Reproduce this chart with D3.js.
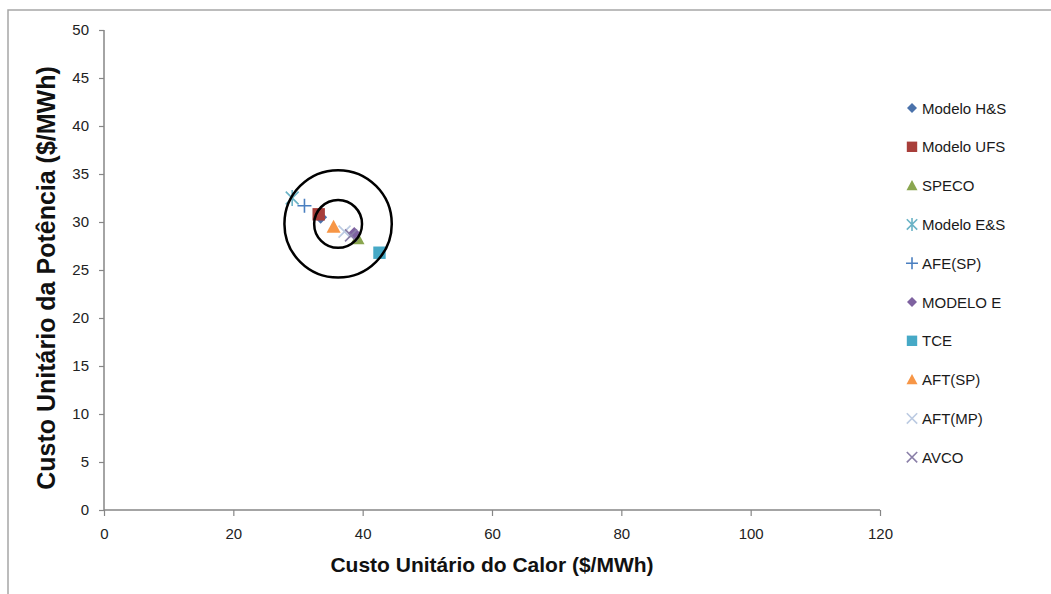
<!DOCTYPE html>
<html>
<head>
<meta charset="utf-8">
<script src="https://cdn.jsdelivr.net/npm/d3@7"></script>
<style>
  html, body { margin: 0; padding: 0; background: #fff; }
  svg { display: block; }
  text { font-family: "Liberation Sans", Arial, sans-serif; }
</style>
</head>
<body>
<svg id="chart" width="1051" height="594"></svg>
<script>
// ---- data ----
const seriesNames = ["Modelo H&S", "Modelo UFS", "SPECO", "Modelo E&S", "AFE(SP)",
                     "MODELO E", "TCE", "AFT(SP)", "AFT(MP)", "AVCO"];
const xValues = [33.5, 33.2, 39.2, 29.1, 31.0, 38.7, 42.6, 35.5, 37.2, 38.2];
const yValues = [30.5, 30.8, 28.3, 32.5, 31.7, 28.8, 26.8, 29.5, 29.0, 28.6];
const xTicks = [0, 20, 40, 60, 80, 100, 120];
const yTicks = [0, 5, 10, 15, 20, 25, 30, 35, 40, 45, 50];
const circleCenter = [36.2, 29.8];
const circleRadii = [8.3, 3.7];   // in x-axis units
const xTitle = "Custo Unitário do Calor ($/MWh)";
const yTitle = "Custo Unitário da Potência ($/MWh)";

// ---- styles ----
const shapes = ["diamond", "square", "triangle", "asterisk", "plus",
                "diamond", "square", "triangle", "cross", "cross"];
const colors = ["#4a72ab", "#a83e3a", "#8aa64f", "#6ab3c6", "#4a7fc0",
                "#7e62a0", "#46a9c6", "#f79646", "#bccbe2", "#8a7fa8"];

const svg = d3.select("#chart");

// outer frame
svg.append("rect").attr("x", 8).attr("y", 10).attr("width", 1200).attr("height", 800)
  .attr("fill", "none").attr("stroke", "#a6a6a6").attr("stroke-width", 1.5);

const x = d3.scaleLinear().domain([0, 120]).range([104, 880]);
const y = d3.scaleLinear().domain([0, 50]).range([510, 30]);

const axisColor = "#868686";
const tickColor = "#222";

// x axis
const gx = svg.append("g").attr("transform", `translate(0,${y(0)})`)
  .call(d3.axisBottom(x).tickValues(xTicks).tickSize(6).tickSizeOuter(0).tickPadding(12));
// y axis
const gy = svg.append("g").attr("transform", `translate(${x(0)},0)`)
  .call(d3.axisLeft(y).tickValues(yTicks).tickSize(5).tickSizeOuter(0).tickPadding(10));

[gx, gy].forEach(g => {
  g.attr("font-size", 15);
  g.select(".domain").attr("stroke", axisColor).attr("stroke-width", 1.5);
  g.selectAll(".tick line").attr("stroke", axisColor).attr("stroke-width", 1.2);
  g.selectAll(".tick text").attr("fill", tickColor)
    .style("font-family", "'Liberation Sans', Arial, sans-serif").style("font-size", "15px");
});
gy.select(".domain").attr("d", `M0,${y(50)}V${y(0)}`);
gx.select(".domain").attr("d", `M${x(0)},0H${x(120)}`);

// axis titles
svg.append("text")
  .attr("x", (x(0) + x(120)) / 2).attr("y", 572)
  .attr("text-anchor", "middle").attr("font-weight", "bold").attr("font-size", 21)
  .attr("fill", "#111").text(xTitle);
svg.append("text")
  .attr("transform", `translate(55,${(y(0) + y(50)) / 2 + 8}) rotate(-90)`)
  .attr("text-anchor", "middle").attr("font-weight", "bold").attr("font-size", 25)
  .attr("fill", "#111").text(yTitle);

// marker drawing
function marker(g, shape, color, s) {
  if (shape === "diamond") {
    g.append("path").attr("d", `M0,${-s}L${s},0L0,${s}L${-s},0Z`).attr("fill", color);
  } else if (shape === "square") {
    g.append("rect").attr("x", -s).attr("y", -s).attr("width", 2 * s).attr("height", 2 * s).attr("fill", color);
  } else if (shape === "triangle") {
    g.append("path").attr("d", `M0,${-s}L${s},${s * 0.85}L${-s},${s * 0.85}Z`).attr("fill", color);
  } else if (shape === "plus") {
    g.append("path").attr("d", `M${-s},0H${s}M0,${-s}V${s}`).attr("stroke", color).attr("stroke-width", 1.6).attr("fill", "none");
  } else if (shape === "cross") {
    const k = s * 0.8;
    g.append("path").attr("d", `M${-k},${-k}L${k},${k}M${-k},${k}L${k},${-k}`).attr("stroke", color).attr("stroke-width", 1.6).attr("fill", "none");
  } else if (shape === "asterisk") {
    const k = s * 0.8;
    g.append("path").attr("d", `M${-k},${-k}L${k},${k}M${-k},${k}L${k},${-k}M0,${-s}V${s}`).attr("stroke", color).attr("stroke-width", 1.6).attr("fill", "none");
  }
}

const plotSize = { diamond: 6.5, square: 6.2, triangle: 7, plus: 7, cross: 7.5, asterisk: 8 };
const legendSize = { diamond: 5, square: 5.2, triangle: 5.5, plus: 6, cross: 6.5, asterisk: 6.5 };

// points
const pts = svg.append("g");
seriesNames.forEach((name, i) => {
  const g = pts.append("g").attr("transform", `translate(${x(xValues[i])},${y(yValues[i])})`);
  marker(g, shapes[i], colors[i], plotSize[shapes[i]]);
});

// circles
const pxPerUnit = x(1) - x(0);
circleRadii.forEach(r => {
  svg.append("circle").attr("cx", x(circleCenter[0])).attr("cy", y(circleCenter[1]))
    .attr("r", r * pxPerUnit).attr("fill", "none").attr("stroke", "#000").attr("stroke-width", 2.5);
});

// legend
const legend = svg.append("g").attr("transform", "translate(912,108)");
const rowH = 38.8;
seriesNames.forEach((name, i) => {
  const g = legend.append("g").attr("transform", `translate(0,${i * rowH})`);
  marker(g, shapes[i], colors[i], legendSize[shapes[i]]);
  g.append("text").attr("x", 10).attr("y", 5.5).attr("font-size", 15).attr("fill", "#1a1a1a").text(name);
});
</script>
</body>
</html>
